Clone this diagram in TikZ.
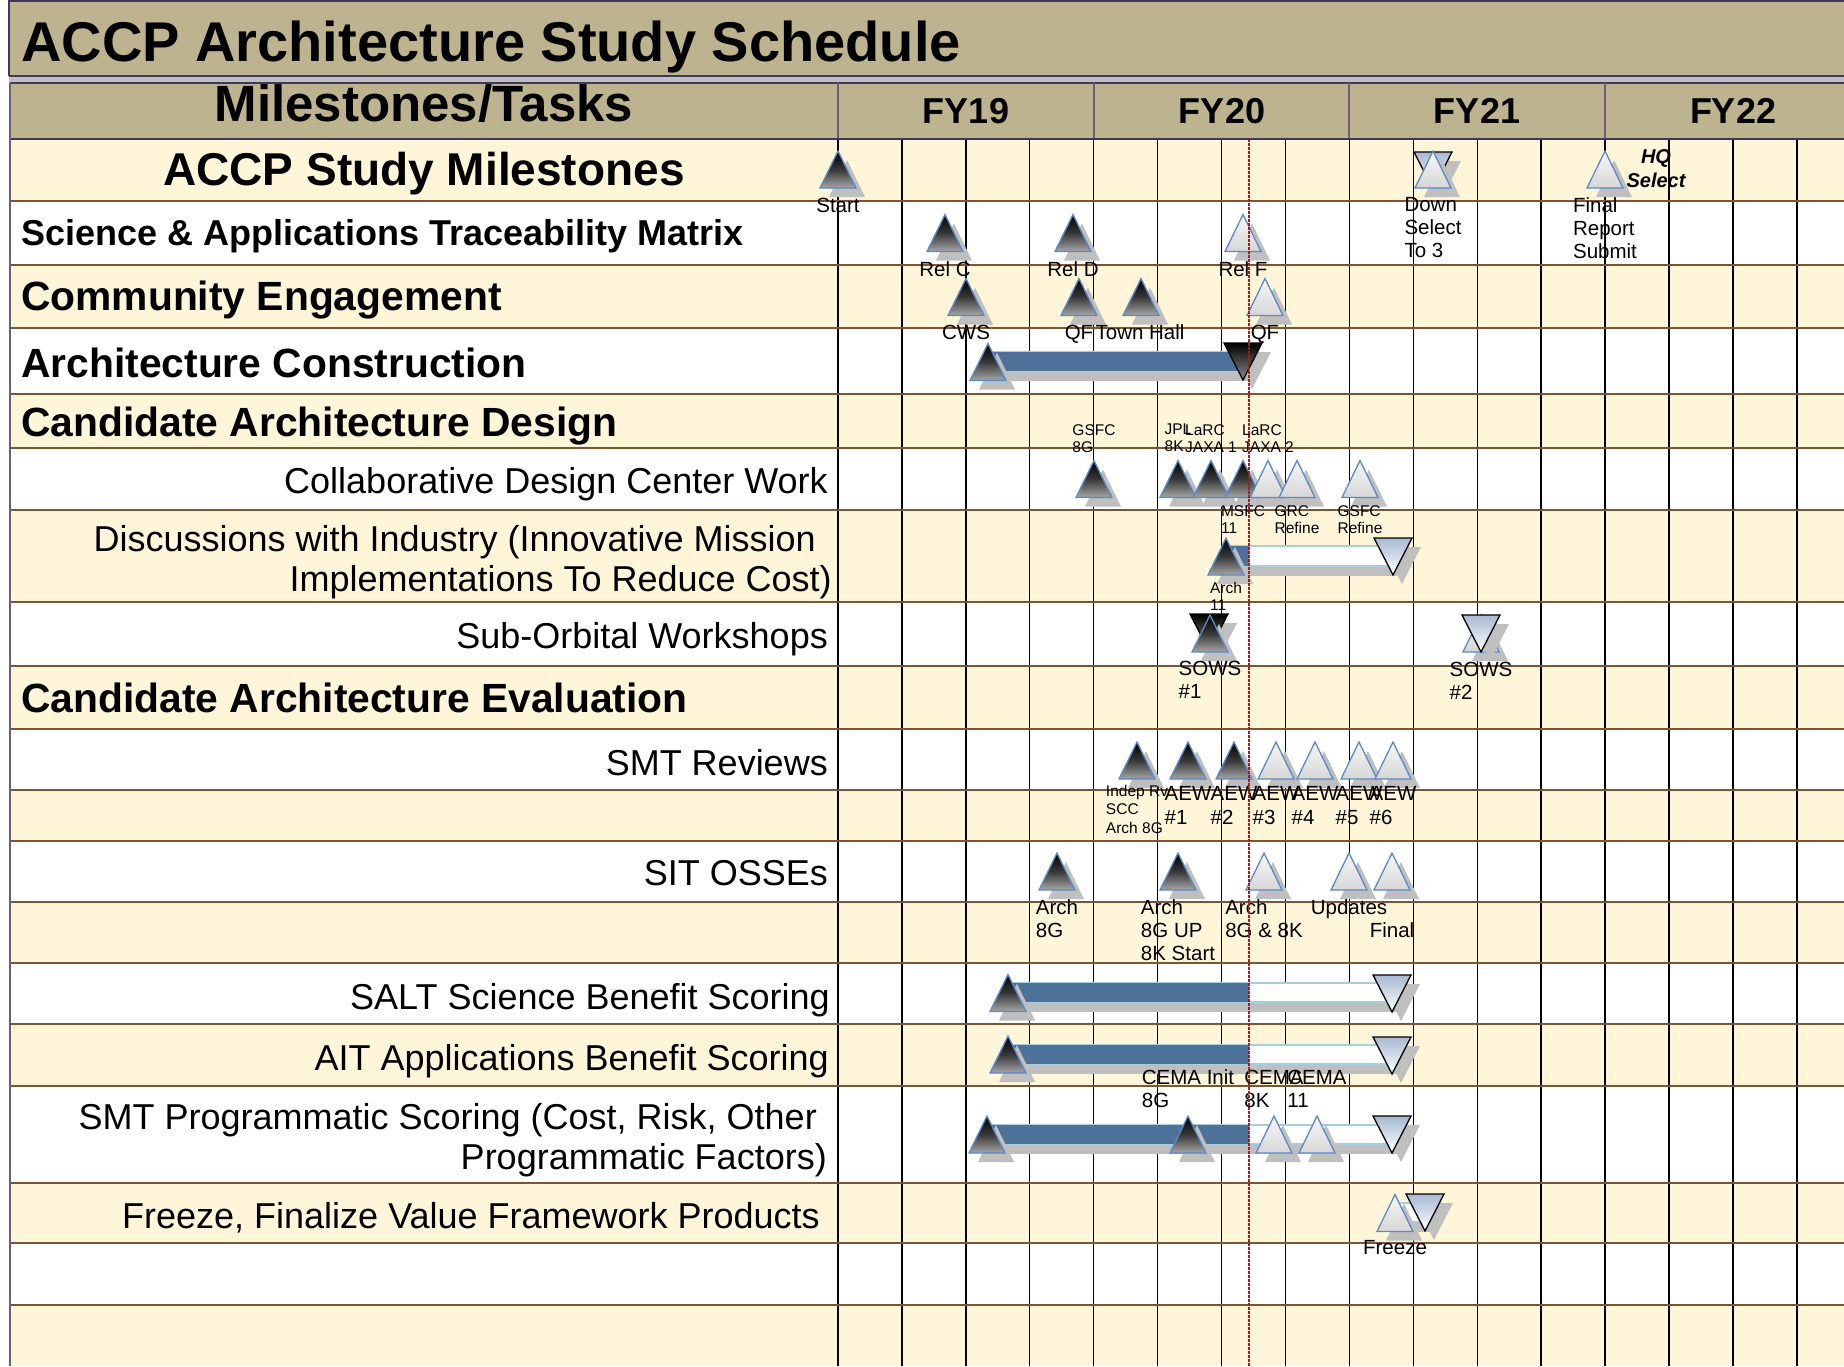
\documentclass[tikz,border=0pt]{standalone}
\usepackage{fontspec}
\setmainfont{Liberation Sans}
\usetikzlibrary{calc}
\definecolor{tanbg}{HTML}{BDB38F}
\definecolor{creambg}{HTML}{FFF6DA}
\definecolor{rowline}{HTML}{7A5634}
\definecolor{msblue}{HTML}{5B8AC6}
\definecolor{shgray}{HTML}{BFBFBF}
\definecolor{barblue}{HTML}{4E7199}
\definecolor{planedge}{HTML}{A6CDE0}
\definecolor{framec}{HTML}{40385A}
\definecolor{dnblue}{HTML}{A7B9D1}
\definecolor{nowred}{HTML}{B01818}
\newcommand\ganttbar[3]{%
  \fill[shgray] ([shift={(8,10)}]#1) rectangle ([shift={(8,10)}]#2);
  \fill[white] (#1) rectangle (#2);
  \draw[planedge, line width=2pt] (#1) -- (#2 |- #1) (#1 |- #2) -- (#2);
  \fill[barblue] (#1) rectangle (#3 |- #2);
}
\tikzset{
  lbl/.style={font=\fontsize{20.5}{23}\selectfont, align=left, inner sep=0pt, anchor=north},
  slbl/.style={font=\fontsize{15.5}{17}\selectfont, align=left, inner sep=0pt, anchor=north},
  hq/.style={font=\bfseries\itshape\fontsize{20}{24}\selectfont, align=center, inner sep=0pt, anchor=north},
  headbig/.style={font=\bfseries\fontsize{40.8}{44}\selectfont, inner sep=0pt, anchor=base west},
  task/.style={font=\fontsize{36}{40}\selectfont, inner sep=0pt, anchor=base east},
  fy/.style={font=\bfseries\fontsize{36}{40}\selectfont, inner sep=0pt, anchor=base},
  gridline/.style={black, line width=1.4pt},
  rowrule/.style={rowline, line width=2.2pt},
  updark/.pic={
    \fill[shgray] (-9,9) -- (9,-28) -- (27,9) -- cycle;
    \path[draw=msblue, line width=1.3pt, top color=black, bottom color=black!35, middle color=black!78] (-18,0) -- (0,-37) -- (18,0) -- cycle;
  },
  uplight/.pic={
    \fill[shgray] (-9,9) -- (9,-28) -- (27,9) -- cycle;
    \path[draw=msblue, line width=1.3pt, top color=black!3, bottom color=black!16] (-18,0) -- (0,-37) -- (18,0) -- cycle;
  },
  dnlight/.pic={
    \fill[shgray] (-10,9) -- (28,9) -- (9,46) -- cycle;
    \path[draw=black, line width=1.3pt, top color=dnblue, bottom color=white] (-19,0) -- (19,0) -- (0,37) -- cycle;
  },
  dndark/.pic={
    \fill[shgray] (-10,9) -- (28,9) -- (9,46) -- cycle;
    \path[draw=black, line width=1.3pt, top color=black, bottom color=black!45] (-19,0) -- (19,0) -- (0,37) -- cycle;
  }
}
\begin{document}
\begin{tikzpicture}[x=1pt, y=-1pt]
\useasboundingbox (0,0) rectangle (1844,1366);
\fill[white] (0,0) rectangle (1844,1366);
% title band
\fill[tanbg] (9,0) rectangle (1844,76);
\draw[framec, line width=1.5pt] (9,76) -- (9,0.75) -- (1844,0.75) (9,76) -- (1844,76);
\fill[black!25] (9,77) rectangle (1844,83);
\fill[tanbg] (10,83) rectangle (1844,139);
\draw[framec, line width=1.2pt] (10,83) -- (1844,83);
\foreach \xx in {838,1094,1349,1605} \draw[framec!80, line width=1.2pt] (\xx,83) -- (\xx,139);
% rows
\foreach \a/\b in {139/201,265/328,394/448,510/602,666/729,790/841,902/963,1024/1086,1183/1243,1305/1366}
  \fill[creambg] (10,\a) rectangle (1844,\b);
\foreach \k in {0,...,15} \draw[gridline] ({838+63.92*\k},139) -- ({838+63.92*\k},1366);
\foreach \yy in {201,265,328,394,448,510,602,666,729,790,841,902,963,1024,1086,1183,1243,1305}
  \draw[rowrule] (10,\yy) -- (1844,\yy);
\draw[framec, line width=1.8pt] (10,139) -- (1844,139);
\draw[framec!80, line width=1.2pt] (10,83) -- (10,1366);
% header texts
\node[font=\bfseries\fontsize{56}{60}\selectfont, inner sep=0pt, anchor=base west] (title) at (21,61) {ACCP Architecture Study Schedule};
\node[font=\bfseries\fontsize{51}{55}\selectfont, inner sep=0pt, anchor=base] (mt) at (424,121) {Milestones/Tasks};
\node[fy] (fy19) at (966,123.5) {FY19};
\node[fy] (fy20) at (1222,123.5) {FY20};
\node[fy] (fy21) at (1477,123.5) {FY21};
\node[fy] (fy22) at (1733,123.5) {FY22};
% left column
\node[font=\bfseries\fontsize{46}{50}\selectfont, inner sep=0pt, anchor=base] (h1) at (424,185) {ACCP Study Milestones};
\node[font=\bfseries\fontsize{36}{40}\selectfont, inner sep=0pt, anchor=base west] (h2) at (21,245) {Science \& Applications Traceability Matrix};
\node[headbig] (h3) at (21,310) {Community Engagement};
\node[headbig] (h4) at (21,377) {Architecture Construction};
\node[headbig] (h5) at (21,436) {Candidate Architecture Design};
\node[headbig] (h9) at (21,712) {Candidate Architecture Evaluation};
\node[task] (t1) at (828,493.5) {Collaborative Design Center Work};
\node[task] (t2a) at (816,551.5) {Discussions with Industry (Innovative Mission};
\node[task] (t2b) at (832,591.5) {Implementations To Reduce Cost)};
\node[task] (t3) at (828,648) {Sub-Orbital Workshops};
\node[task] (t4) at (828,775) {SMT Reviews};
\node[task] (t5) at (828,885.5) {SIT OSSEs};
\node[task] (t6) at (830,1009) {SALT Science Benefit Scoring};
\node[task] (t7) at (829,1070) {AIT Applications Benefit Scoring};
\node[task] (t8a) at (817,1129) {SMT Programmatic Scoring (Cost, Risk, Other};
\node[task] (t8b) at (827,1169.5) {Programmatic Factors)};
\node[task] (t9) at (820,1228) {Freeze, Finalize Value Framework Products};
% now line coordinate
\coordinate (now) at (1249,139);
\coordinate (nowend) at (1249,1366);
% ---- row 1
\coordinate (start) at (838,188);
\coordinate (dsD) at (1433,152);
\coordinate (dsU) at (1433,188);
\coordinate (final) at (1605,188);
\pic at (start) {updark};
\pic at (dsD) {dnlight};
\pic at (dsU) {uplight};
\pic at (final) {uplight};
\node[lbl] (lStart) at (838,197.5) {Start};
\node[lbl] (lDS) at (1433,197.5) {Down\\Select\\To 3};
\node[lbl] (lFin) at (1605,197.5) {Final\\Report\\Submit};
\node[hq] (lHQ) at (1656,149) {HQ\\Select};
% ---- row 2
\coordinate (relC) at (945,251.5);
\coordinate (relD) at (1073,251.5);
\coordinate (relF) at (1243,251.5);
\pic at (relC) {updark};
\pic at (relD) {updark};
\pic at (relF) {uplight};
\node[lbl] (lRelC) at (945,261.5) {Rel C};
\node[lbl] (lRelD) at (1073,261.5) {Rel D};
\node[lbl] (lRelF) at (1243,261.5) {Rel F};
% ---- row 3
\coordinate (cws) at (966,315.5);
\coordinate (qf1) at (1079,315.5);
\coordinate (town) at (1141,315.5);
\coordinate (qf2) at (1265,315.5);
\pic at (cws) {updark};
\pic at (qf1) {updark};
\pic at (town) {updark};
\pic at (qf2) {uplight};
\node[lbl] (lCWS) at (966,324.5) {CWS};
\node[lbl] (lQF1) at (1079,324.5) {QF};
\node[lbl] (lTown) at (1140,324.5) {Town Hall};
\node[lbl] (lQF2) at (1265,324.5) {QF};
% ---- row 4 Architecture Construction
\coordinate (acA) at (988,380.5);
\coordinate (acB) at (1243,343);
\coordinate (acS) at (988,351.5);
\coordinate (acE) at (1243,370.5);
\ganttbar{acS}{acE}{acE}
\pic at (acA) {updark};
\pic at (acB) {dndark};
% ---- row 5/6 Collaborative Design Center Work
\node[slbl] (lGSFC) at (1094,424) {GSFC\\8G};
\node[slbl] (lJPL) at (1178,424) {JPL\\8K};
\node[slbl] (lJ1) at (1211,424) {LaRC\\JAXA 1};
\node[slbl] (lJ2) at (1268,424) {LaRC\\JAXA 2};
\coordinate (cdc1) at (1094,497.5);
\coordinate (cdc2) at (1178,497.5);
\coordinate (cdc3) at (1211,497.5);
\coordinate (cdc4) at (1243,497.5);
\coordinate (cdc5) at (1268,497.5);
\coordinate (cdc6) at (1297,497.5);
\coordinate (cdc7) at (1360,497.5);
\pic at (cdc1) {updark};
\pic at (cdc2) {updark};
\pic at (cdc3) {updark};
\pic at (cdc4) {updark};
\pic at (cdc5) {uplight};
\pic at (cdc6) {uplight};
\pic at (cdc7) {uplight};
\node[slbl] (lMSFC) at (1243,505) {MSFC\\11};
\node[slbl] (lGRC) at (1297,505) {GRC\\Refine};
\node[slbl] (lGSFCr) at (1360,505) {GSFC\\Refine};
% ---- row 7 Discussions with Industry
\coordinate (diA) at (1226,575);
\coordinate (diB) at (1393,538);
\coordinate (diS) at (1226,546);
\coordinate (diE) at (1393,566);
\ganttbar{diS}{diE}{now}
\pic at (diA) {updark};
\pic at (diB) {dnlight};
\node[slbl] (lArch11) at (1226,582) {Arch\\11};
% ---- row 8 Sub-Orbital Workshops
\coordinate (sw1d) at (1209,614);
\coordinate (sw1u) at (1210,652);
\coordinate (sw2u) at (1481,652);
\coordinate (sw2d) at (1481,615);
\pic at (sw1d) {dndark};
\pic at (sw1u) {updark};
\pic at (sw2u) {uplight};
\pic at (sw2d) {dnlight};
\node[lbl] (lSOWS1) at (1210,660.5) {SOWS\\\#1};
\node[lbl] (lSOWS2) at (1481,661.5) {SOWS\\\#2};
% ---- row 10 SMT Reviews
\coordinate (smt1) at (1137,779);
\coordinate (smt2) at (1188,779);
\coordinate (smt3) at (1234,779);
\coordinate (smt4) at (1276,779);
\coordinate (smt5) at (1315,779);
\coordinate (smt6) at (1359,779);
\coordinate (smt7) at (1393,779);
\pic at (smt1) {updark};
\pic at (smt2) {updark};
\pic at (smt3) {updark};
\pic at (smt4) {uplight};
\pic at (smt5) {uplight};
\pic at (smt6) {uplight};
\pic at (smt7) {uplight};
\node[slbl, font=\fontsize{15.5}{18.5}\selectfont] (lIndep) at (1137,785) {Indep Rv\\SCC\\Arch 8G};
\node[lbl, font=\fontsize{20.5}{24}\selectfont] (lAEW1) at (1188,786.5) {AEW\\\#1};
\node[lbl, font=\fontsize{20.5}{24}\selectfont] (lAEW2) at (1234,786.5) {AEW\\\#2};
\node[lbl, font=\fontsize{20.5}{24}\selectfont] (lAEW3) at (1276,786.5) {AEW\\\#3};
\node[lbl, font=\fontsize{20.5}{24}\selectfont] (lAEW4) at (1315,786.5) {AEW\\\#4};
\node[lbl, font=\fontsize{20.5}{24}\selectfont] (lAEW5) at (1359,786.5) {AEW\\\#5};
\node[lbl, font=\fontsize{20.5}{24}\selectfont] (lAEW6) at (1393,786.5) {AEW\\\#6};
% ---- row 12 SIT OSSEs
\coordinate (sit1) at (1057,890);
\coordinate (sit2) at (1178,890);
\coordinate (sit3) at (1264,890);
\coordinate (sit4) at (1349,890);
\coordinate (sit5) at (1392,890);
\pic at (sit1) {updark};
\pic at (sit2) {updark};
\pic at (sit3) {uplight};
\pic at (sit4) {uplight};
\pic at (sit5) {uplight};
\node[lbl] (lSit1) at (1057,899.5) {Arch\\8G};
\node[lbl] (lSit2) at (1178,899.5) {Arch\\8G UP\\8K Start};
\node[lbl] (lSit3) at (1264,899.5) {Arch\\8G \& 8K};
\node[lbl] (lSit4) at (1349,899.5) {Updates};
\node[lbl] (lSit5) at (1392,922.5) {Final};
% ---- row 14 SALT
\coordinate (saltA) at (1008,1011.5);
\coordinate (saltB) at (1392,975);
\coordinate (saltS) at (1008,983);
\coordinate (saltE) at (1392,1002);
\ganttbar{saltS}{saltE}{now}
\pic at (saltA) {updark};
\pic at (saltB) {dnlight};
% ---- row 15 AIT
\coordinate (aitA) at (1008,1073);
\coordinate (aitB) at (1392,1037);
\coordinate (aitS) at (1008,1045);
\coordinate (aitE) at (1392,1064);
\ganttbar{aitS}{aitE}{now}
\pic at (aitA) {updark};
\pic at (aitB) {dnlight};
% ---- row 16 SMT Programmatic
\node[lbl] (lCema1) at (1188,1069.5) {CEMA Init\\8G};
\node[lbl] (lCema2) at (1274,1069.5) {CEMA\\8K};
\node[lbl] (lCema3) at (1317,1069.5) {CEMA\\11};
\coordinate (pgA) at (987,1153);
\coordinate (pg2) at (1188,1153);
\coordinate (pg3) at (1274,1153);
\coordinate (pg4) at (1317,1153);
\coordinate (pgB) at (1392,1116);
\coordinate (pgS) at (987,1125);
\coordinate (pgE) at (1392,1144);
\ganttbar{pgS}{pgE}{now}
\pic at (pgA) {updark};
\pic at (pg2) {updark};
\pic at (pg3) {uplight};
\pic at (pg4) {uplight};
\pic at (pgB) {dnlight};
% ---- row 17 Freeze
\coordinate (frA) at (1395,1231.5);
\coordinate (frB) at (1425,1194);
\coordinate (frS) at (1395,1203);
\coordinate (frE) at (1425,1222);
\ganttbar{frS}{frE}{frS}
\pic at (frA) {uplight};
\pic at (frB) {dnlight};
\node[lbl] (lFreeze) at (1395,1240.5) {Freeze};
% now line
\draw[nowred, line width=1.4pt, dash pattern=on 3pt off 1pt] (now) -- (nowend);
\end{tikzpicture}
\end{document}
